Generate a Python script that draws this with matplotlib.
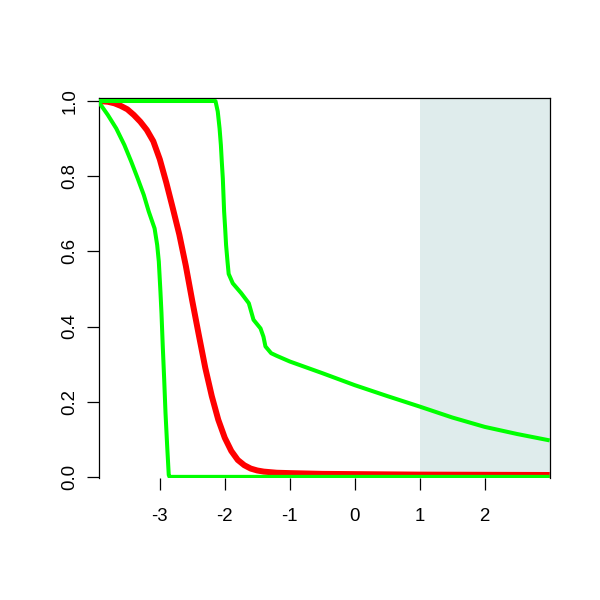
import matplotlib
matplotlib.use("Agg")
import matplotlib.pyplot as plt

# red curve (smooth survival-like drop)
red_x = [-3.94, -3.80, -3.70, -3.60, -3.50, -3.40, -3.30, -3.20, -3.10, -3.00, -2.90,
         -2.80, -2.70, -2.60, -2.50, -2.40, -2.30, -2.20, -2.10, -2.00, -1.90, -1.80,
         -1.70, -1.60, -1.50, -1.40, -1.20, -1.00, -0.50, 1.00, 3.00]
red_y = [1.0, 0.998, 0.994, 0.987, 0.978, 0.963, 0.945, 0.923, 0.893, 0.845, 0.783,
         0.715, 0.645, 0.562, 0.468, 0.378, 0.290, 0.215, 0.152, 0.104, 0.069, 0.045,
         0.031, 0.022, 0.017, 0.014, 0.011, 0.010, 0.008, 0.006, 0.005]

# green curve dropping to zero near -2.86
g1_x = [-3.95, -3.80, -3.67, -3.545, -3.44, -3.34, -3.246, -3.17, -3.08, -3.04, -3.015,
        -2.99, -2.974, -2.954, -2.932, -2.912, -2.886, -2.862, -2.85, 3.0]
g1_y = [1.0, 0.963, 0.927, 0.883, 0.839, 0.794, 0.750, 0.706, 0.661, 0.617, 0.573,
        0.493, 0.436, 0.347, 0.258, 0.170, 0.081, 0.005, 0.0, 0.0]

# green step curve with long tail
g2_x = [-3.95, -2.143, -2.108, -2.08, -2.06, -2.046, -2.03, -2.02, -2.01, -1.994, -1.98,
        -1.958, -1.94, -1.877, -1.748, -1.63, -1.594, -1.558, -1.45, -1.405, -1.374,
        -1.286, -1.2, -1.0, -0.5, 0.0, 0.5, 1.0, 1.5, 2.0, 2.5, 3.0]
g2_y = [1.0, 1.0, 0.972, 0.927, 0.883, 0.839, 0.794, 0.750, 0.706, 0.661, 0.617,
        0.573, 0.540, 0.515, 0.489, 0.462, 0.440, 0.418, 0.395, 0.373, 0.347,
        0.329, 0.322, 0.307, 0.276, 0.244, 0.215, 0.187, 0.158, 0.133, 0.114, 0.097]

shade_from = 1.0
x_ticks = [-3, -2, -1, 0, 1, 2]
y_ticks = [0.0, 0.2, 0.4, 0.6, 0.8, 1.0]

plt.rcParams['font.family'] = ['Liberation Sans', 'DejaVu Sans']

fig = plt.figure(figsize=(6, 6), dpi=100)
ax = fig.add_axes([98.7 / 600, 1 - 478 / 600, (549.7 - 98.7) / 600, (478 - 98) / 600])
ax.set_xlim(-3.94, 3.0)
ax.set_ylim(-0.003, 1.008)

ax.axvspan(shade_from, 3.0, color='#DFECEC', lw=0, zorder=0)
ax.plot(red_x, red_y, color='#FF0000', lw=4.3, solid_capstyle='butt', zorder=2)
ax.plot(g1_x, g1_y, color='#00FF00', lw=2.9, solid_capstyle='butt', zorder=3)
ax.plot(g2_x, g2_y, color='#00FF00', lw=2.9, solid_capstyle='butt', zorder=3)

ax.spines['bottom'].set_visible(False)
for s in ['left', 'top', 'right']:
    ax.spines[s].set_linewidth(0.9)

ax.set_xticks(x_ticks)
ax.set_xticklabels([str(t) for t in x_ticks])
ax.set_yticks(y_ticks)
ax.set_yticklabels([f'{t:.1f}' for t in y_ticks])
ax.tick_params(axis='x', length=8.6, width=0.9, pad=13, labelsize=13.4)
ax.tick_params(axis='y', length=8.6, width=0.9, pad=6, labelsize=13.4, labelrotation=90)
for lab in ax.get_yticklabels():
    lab.set_va('center')

fig.savefig('out.png', dpi=100)
